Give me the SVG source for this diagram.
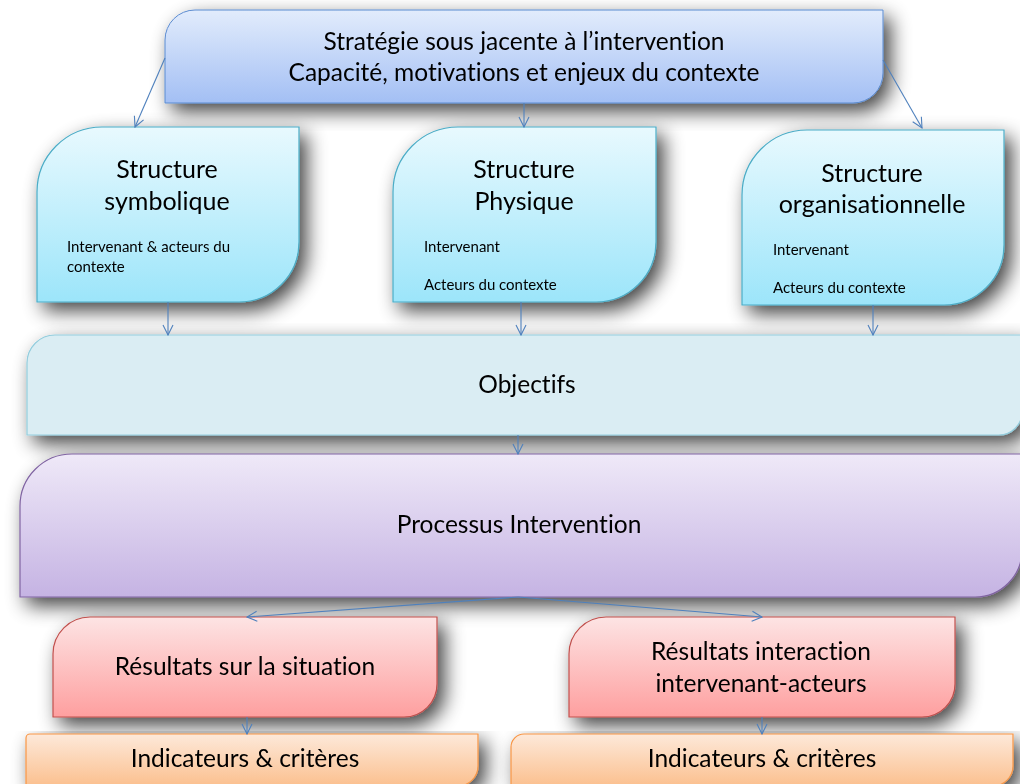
<svg xmlns="http://www.w3.org/2000/svg" width="1020" height="784" viewBox="0 0 1020 784">
<style>
text{font-family:Lato,"Open Sans","Liberation Sans",sans-serif;fill:#000;text-anchor:middle;font-variant-ligatures:none}
.t22{font-size:24.5px}
.t23{font-size:25px}
.s{font-size:15px;text-anchor:start}
.c{fill:none;stroke:#4f81bd;stroke-width:1.1;marker-end:url(#ah)}
</style>
<defs>
<filter id="sh" x="-10%" y="-20%" width="125%" height="150%">
<feGaussianBlur in="SourceAlpha" stdDeviation="10"/>
<feOffset dx="7" dy="8" result="b"/>
<feComponentTransfer><feFuncA type="linear" slope="0.75"/></feComponentTransfer>
<feMerge><feMergeNode/><feMergeNode in="SourceGraphic"/></feMerge>
</filter>
<linearGradient id="gBlue" x1="0" y1="0" x2="0" y2="1"><stop offset="0" stop-color="#e2ecfc"/><stop offset="1" stop-color="#a3bff4"/></linearGradient>
<linearGradient id="gCyan" x1="0" y1="0" x2="0" y2="1"><stop offset="0" stop-color="#e8f9fe"/><stop offset="1" stop-color="#9ce5fa"/></linearGradient>
<linearGradient id="gPurp" x1="0" y1="0" x2="0" y2="1"><stop offset="0" stop-color="#efe9f8"/><stop offset="1" stop-color="#c5b3e3"/></linearGradient>
<linearGradient id="gRed" x1="0" y1="0" x2="0" y2="1"><stop offset="0" stop-color="#fde4e4"/><stop offset="1" stop-color="#fe9f9f"/></linearGradient>
<linearGradient id="gOr" x1="0" y1="0" x2="0" y2="1"><stop offset="0" stop-color="#fde9da"/><stop offset="1" stop-color="#fbc08f"/></linearGradient>
<marker id="ah" viewBox="0 0 12 12" refX="11" refY="6" markerWidth="12" markerHeight="12" markerUnits="userSpaceOnUse" orient="auto">
<path d="M1,1 L11,6 L1,11" fill="none" stroke="#4f81bd" stroke-width="1.1"/>
</marker>
</defs>
<rect width="1020" height="784" fill="#fff"/>

<g id="strategie" filter="url(#sh)">
<path d="M195,10 H883 V73 A30,30 0 0 1 853,103 H165 V40 A30,30 0 0 1 195,10 Z" fill="url(#gBlue)" stroke="#5b8bd0" stroke-width="1"/>
<text class="t22" x="524" y="50">Stratégie sous jacente à l’intervention</text>
<text class="t22" x="524" y="81">Capacité, motivations et enjeux du contexte</text>
</g>

<g id="symbolique" filter="url(#sh)">
<path d="M102,127 H299 V242 A60,60 0 0 1 239,302 H37 V192 A65,65 0 0 1 102,127 Z" fill="url(#gCyan)" stroke="#4bacc6" stroke-width="1.2"/>
<text class="t23" x="167" y="178">Structure</text>
<text class="t23" x="167" y="210">symbolique</text>
<text class="s" x="67" y="252">Intervenant &amp; acteurs du</text>
<text class="s" x="67" y="272">contexte</text>
</g>

<g id="physique" filter="url(#sh)">
<path d="M458,127 H656 V242 A60,60 0 0 1 596,302 H393 V192 A65,65 0 0 1 458,127 Z" fill="url(#gCyan)" stroke="#4bacc6" stroke-width="1.2"/>
<text class="t23" x="524" y="178">Structure</text>
<text class="t23" x="524" y="210">Physique</text>
<text class="s" x="424" y="252">Intervenant</text>
<text class="s" x="424" y="290">Acteurs du contexte</text>
</g>

<g id="organisationnelle" filter="url(#sh)">
<path d="M807,130 H1004 V245 A60,60 0 0 1 944,305 H742 V195 A65,65 0 0 1 807,130 Z" fill="url(#gCyan)" stroke="#4bacc6" stroke-width="1.2"/>
<text class="t23" x="872" y="182">Structure</text>
<text class="t23" x="872" y="213">organisationnelle</text>
<text class="s" x="773" y="255">Intervenant</text>
<text class="s" x="773" y="293">Acteurs du contexte</text>
</g>

<g id="objectifs" filter="url(#sh)">
<path d="M55,335 H1022 V412 A23,23 0 0 1 999,435 H27 V363 A28,28 0 0 1 55,335 Z" fill="#daedf3" stroke="#93cddd" stroke-width="1.2"/>
<text class="t22" x="527" y="393">Objectifs</text>
</g>

<g id="processus" filter="url(#sh)">
<path d="M72,454 H1022 V550 A47,47 0 0 1 975,597 H20 V506 A52,52 0 0 1 72,454 Z" fill="url(#gPurp)" stroke="#8064a2" stroke-width="1.2"/>
<text class="t22" x="519" y="533">Processus Intervention</text>
</g>

<g id="resultats-situation" filter="url(#sh)">
<path d="M90,617 H437 V684 A33,33 0 0 1 404,717 H53 V654 A37,37 0 0 1 90,617 Z" fill="url(#gRed)" stroke="#c0504d" stroke-width="1.2"/>
<text class="t22" x="245" y="675">Résultats sur la situation</text>
</g>

<g id="resultats-interaction" filter="url(#sh)">
<path d="M606,617 H955 V684 A33,33 0 0 1 922,717 H569 V654 A37,37 0 0 1 606,617 Z" fill="url(#gRed)" stroke="#c0504d" stroke-width="1.2"/>
<text class="t22" x="761" y="660">Résultats interaction</text>
<text class="t22" x="761" y="692">intervenant-acteurs</text>
</g>

<g id="indicateurs-1" filter="url(#sh)">
<path d="M30,734 H478 V766 A20,20 0 0 1 458,786 H26 V738 A4,4 0 0 1 30,734 Z" fill="url(#gOr)" stroke="#f79646" stroke-width="1.2"/>
<text class="t22" x="245" y="767">Indicateurs &amp; critères</text>
</g>

<g id="indicateurs-2" filter="url(#sh)">
<path d="M524,734 H1013 V766 A20,20 0 0 1 993,786 H511 V747 A13,13 0 0 1 524,734 Z" fill="url(#gOr)" stroke="#f79646" stroke-width="1.2"/>
<text class="t22" x="762" y="767">Indicateurs &amp; critères</text>
</g>

<g id="connectors">
<line class="c" x1="165" y1="58" x2="135" y2="127"/>
<line class="c" x1="524" y1="103" x2="524" y2="127"/>
<line class="c" x1="883" y1="60" x2="922" y2="128"/>
<line class="c" x1="168" y1="302" x2="168" y2="335"/>
<line class="c" x1="521" y1="302" x2="521" y2="335"/>
<line class="c" x1="873" y1="305" x2="873" y2="335"/>
<line class="c" x1="518" y1="435" x2="518" y2="454"/>
<line class="c" x1="518" y1="597" x2="247" y2="617"/>
<line class="c" x1="518" y1="597" x2="762" y2="617"/>
<line class="c" x1="247" y1="717" x2="247" y2="734"/>
<line class="c" x1="762" y1="717" x2="762" y2="734"/>
</g>
</svg>
